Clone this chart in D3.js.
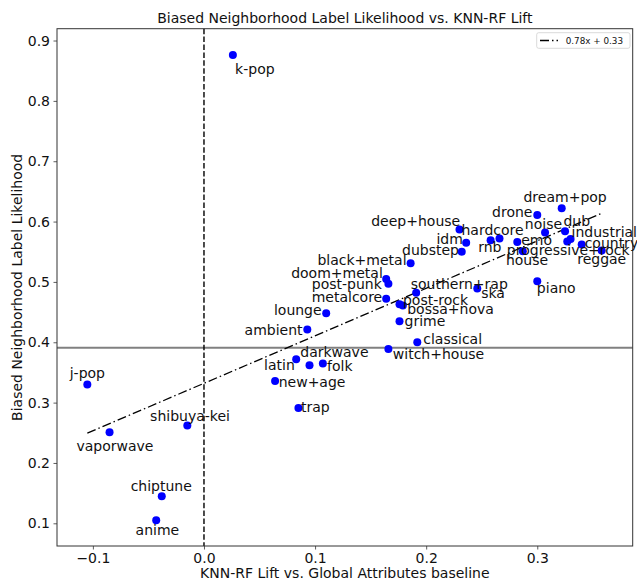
<!DOCTYPE html>
<html>
<head>
<meta charset="utf-8">
<script src="https://cdn.jsdelivr.net/npm/d3@7"></script>
<style>
  html, body { margin: 0; padding: 0; background: #fff; }
  svg { display: block; font-family: "DejaVu Sans", sans-serif; }
</style>
</head>
<body>
<svg id="chart" width="637" height="581"></svg>
<script>
// ---- data ----
const genres = ["k-pop","j-pop","vaporwave","shibuya-kei","chiptune","anime","darkwave","latin","folk","new+age",
  "trap","ambient","lounge","metalcore","doom+metal","post-punk","black+metal","southern+rap","post-rock","bossa+nova",
  "grime","classical","witch+house","ska","piano","deep+house","idm","dubstep","hardcore","rnb",
  "emo","house","drone","dream+pop","noise","dub","industrial","progressive+rock","country","reggae"];
const knnLift = [0.026,-0.105,-0.085,-0.015,-0.038,-0.043,0.083,0.095,0.107,0.064,
  0.085,0.093,0.110,0.164,0.164,0.166,0.186,0.191,0.176,0.179,
  0.176,0.192,0.166,0.246,0.300,0.230,0.236,0.232,0.258,0.266,
  0.282,0.287,0.300,0.322,0.307,0.325,0.330,0.327,0.340,0.358];
const biasedLikelihood = [0.876,0.330,0.251,0.262,0.145,0.105,0.372,0.362,0.365,0.336,
  0.291,0.421,0.448,0.472,0.505,0.497,0.531,0.482,0.463,0.461,
  0.435,0.400,0.389,0.489,0.501,0.587,0.565,0.550,0.569,0.572,
  0.566,0.551,0.611,0.622,0.582,0.584,0.571,0.567,0.562,0.552];
const xTicks = [-0.1, 0.0, 0.1, 0.2, 0.3];
const yTicks = [0.1, 0.2, 0.3, 0.4, 0.5, 0.6, 0.7, 0.8, 0.9];
const fitSlope = 0.787, fitIntercept = 0.332;
const fitLabel = "0.78x + 0.33";
const baselineLevel = 0.391;

// ---- label layout (pixel offsets of label centre from its dot) ----
const labelOffsets = {
  "k-pop":[22,14],"j-pop":[0,-11.4],"vaporwave":[5.4,13.7],"shibuya-kei":[2.7,-10],"chiptune":[-0.5,-10],
  "anime":[1.2,10],"darkwave":[38.2,-7.3],"latin":[-30.1,-0.3],"folk":[17,2.6],"new+age":[37,1],
  "trap":[17,-0.6],"ambient":[-33.7,0],"lounge":[-28.4,-3.3],"metalcore":[-39.2,-2],"doom+metal":[-49.2,-6],
  "post-punk":[-41.6,0],"black+metal":[-48.6,-3.7],"southern+rap":[43.1,-8.7],"post-rock":[36,-4.7],"bossa+nova":[47.7,3.3],
  "grime":[25.4,0],"classical":[35.4,-3.7],"witch+house":[50.1,4.6],"ska":[15.8,4.6],"piano":[19,6.3],
  "deep+house":[-43.8,-8.3],"idm":[-16.5,-3.4],"dubstep":[-31.2,-2],"hardcore":[2,-10.7],"rnb":[-9.7,8.6],
  "emo":[19.3,-2.3],"house":[4.2,9],"drone":[-25,-3],"dream+pop":[3.4,-11],"noise":[-1.6,-8.3],
  "dub":[11.7,-10.6],"industrial":[33.7,-7.3],"progressive+rock":[1,8.3],"country":[29.7,-2],"reggae":[0,8.6]
};

const points = genres.map((g, i) => ({ name: g, x: knnLift[i], y: biasedLikelihood[i] }));

// ---- layout ----
const plot = { left: 57, right: 632.7, top: 28.7, bottom: 546 };
const x = d3.scaleLinear().domain([-0.1323, 0.3859]).range([plot.left, plot.right]);
const y = d3.scaleLinear().domain([0.0624, 0.9196]).range([plot.bottom, plot.top]);

const svg = d3.select("#chart");
const g = svg.append("g");

// baseline grey line
g.append("line")
  .attr("x1", plot.left).attr("x2", plot.right)
  .attr("y1", y(baselineLevel)).attr("y2", y(baselineLevel))
  .attr("stroke", "#808080").attr("stroke-width", 2);

// vertical dashed zero line
g.append("line")
  .attr("x1", x(0)).attr("x2", x(0))
  .attr("y1", plot.top).attr("y2", plot.bottom)
  .attr("stroke", "#000").attr("stroke-width", 1.4)
  .attr("stroke-dasharray", "5.5,2.4");

// fit line
const xMin = d3.min(knnLift), xMax = d3.max(knnLift);
g.append("line")
  .attr("x1", x(xMin)).attr("y1", y(fitSlope * xMin + fitIntercept))
  .attr("x2", x(xMax)).attr("y2", y(fitSlope * xMax + fitIntercept))
  .attr("stroke", "#000").attr("stroke-width", 1.3)
  .attr("stroke-dasharray", "9,3,1.5,3");

// points
g.selectAll("circle.pt").data(points).enter().append("circle")
  .attr("class", "pt")
  .attr("cx", d => x(d.x)).attr("cy", d => y(d.y)).attr("r", 4)
  .attr("fill", "#0000ff");

// axes
const fmt = d3.format(".1f");
const xAxis = svg.append("g").attr("transform", `translate(0,${plot.bottom})`)
  .call(d3.axisBottom(x).tickValues(xTicks).tickFormat(fmt).tickSize(3.5).tickPadding(3.5));
const yAxis = svg.append("g").attr("transform", `translate(${plot.left},0)`)
  .call(d3.axisLeft(y).tickValues(yTicks).tickFormat(fmt).tickSize(3.5).tickPadding(3.5));
[xAxis, yAxis].forEach(a => {
  a.select(".domain").remove();
  a.selectAll(".tick line").attr("stroke", "#333").attr("stroke-width", 0.8);
  a.selectAll(".tick text").attr("font-size", 14).attr("fill", "#111").attr("font-family", "DejaVu Sans");
});

// frame
svg.append("rect")
  .attr("x", plot.left).attr("y", plot.top)
  .attr("width", plot.right - plot.left).attr("height", plot.bottom - plot.top)
  .attr("fill", "none").attr("stroke", "#333").attr("stroke-width", 1);

// labels (not clipped, as in the reference they run past the frame)
const lab = svg.append("g");
lab.selectAll("text").data(points).enter().append("text")
  .attr("x", d => x(d.x) + labelOffsets[d.name][0])
  .attr("y", d => y(d.y) + labelOffsets[d.name][1])
  .attr("text-anchor", "middle")
  .attr("dominant-baseline", "central")
  .attr("font-size", 14)
  .attr("fill", "#111")
  .text(d => d.name);

// legend
const leg = svg.append("g");
leg.append("rect").attr("x", 536.7).attr("y", 32.7).attr("width", 93.3).attr("height", 15.6)
  .attr("rx", 2).attr("fill", "#fff").attr("stroke", "#d0d0d0").attr("stroke-width", 0.8);
leg.append("line").attr("x1", 540).attr("x2", 558).attr("y1", 40.5).attr("y2", 40.5)
  .attr("stroke", "#000").attr("stroke-width", 1.3).attr("stroke-dasharray", "9,3,1.5,3");
leg.append("text").attr("x", 565.7).attr("y", 40.5).attr("dominant-baseline", "central")
  .attr("font-size", 8.8).attr("fill", "#111").text(fitLabel);

// title & axis labels
svg.append("text").attr("x", (plot.left + plot.right) / 2).attr("y", 18)
  .attr("text-anchor", "middle").attr("dominant-baseline", "central")
  .attr("font-size", 14).attr("fill", "#111")
  .text("Biased Neighborhood Label Likelihood vs. KNN-RF Lift");
svg.append("text").attr("x", (plot.left + plot.right) / 2).attr("y", 573)
  .attr("text-anchor", "middle").attr("dominant-baseline", "central")
  .attr("font-size", 14).attr("fill", "#111")
  .text("KNN-RF Lift vs. Global Attributes baseline");
svg.append("text")
  .attr("transform", `translate(17,${(plot.top + plot.bottom) / 2}) rotate(-90)`)
  .attr("text-anchor", "middle").attr("dominant-baseline", "central")
  .attr("font-size", 14).attr("fill", "#111")
  .text("Biased Neighborhood Label Likelihood");
</script>
</body>
</html>
